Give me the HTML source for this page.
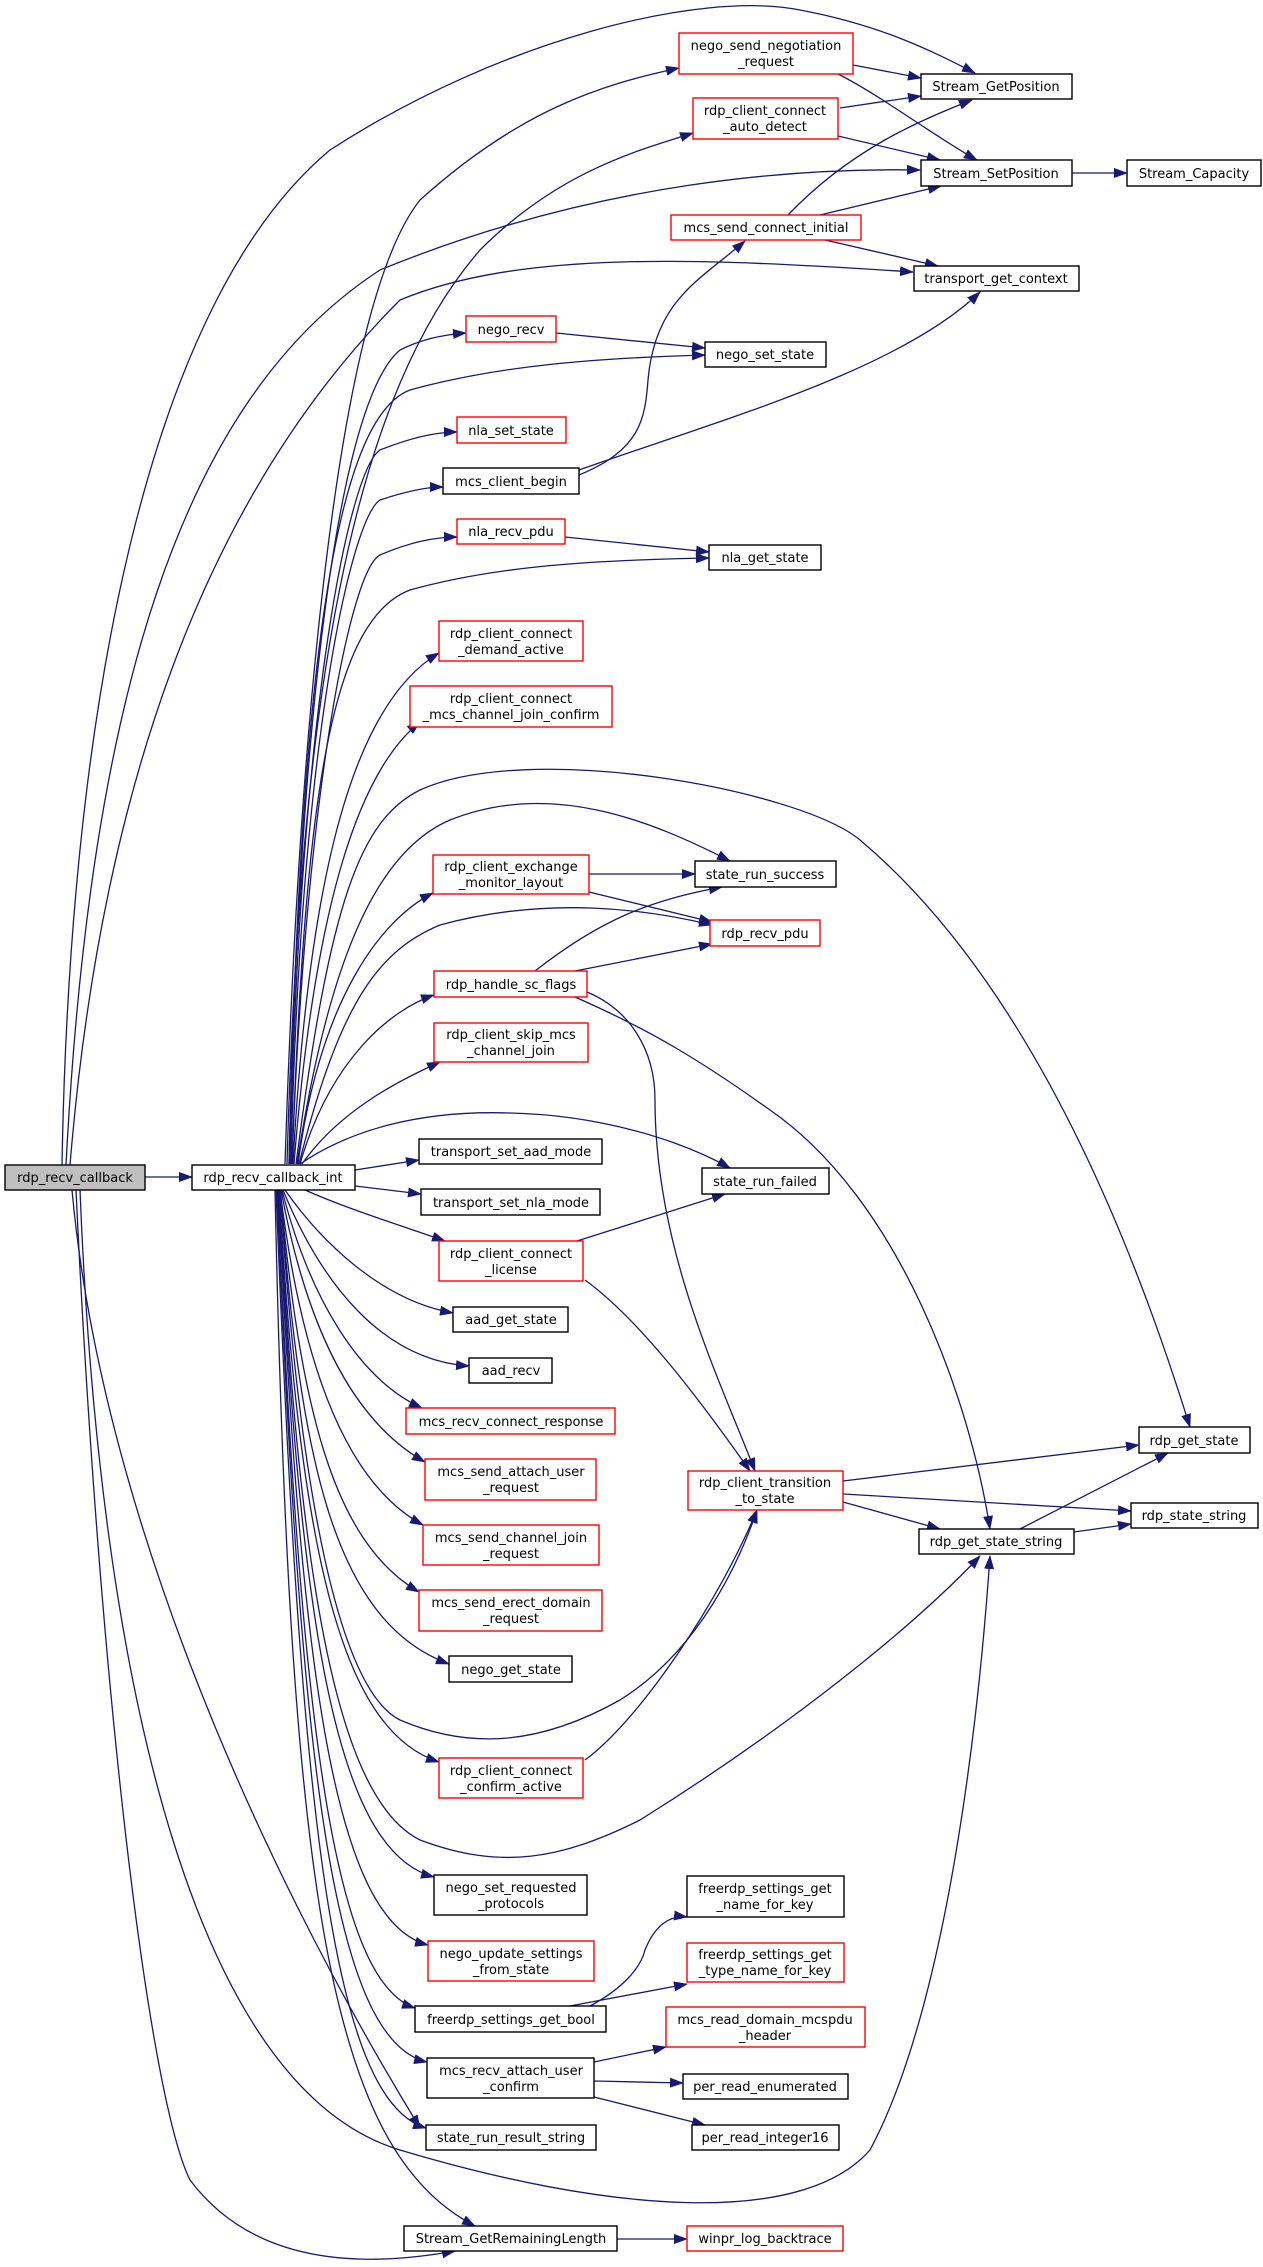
<!DOCTYPE html>
<html><head><meta charset="utf-8"><style>
html,body{margin:0;padding:0;background:#fff;}
svg{display:block;}
text{font-family:"DejaVu Sans","Liberation Sans",sans-serif;font-size:13px;fill:#000;text-anchor:middle;}
.e{fill:none;stroke:#191970;stroke-width:1.3;marker-end:url(#a);}
.n{fill:#fff;stroke:#000;stroke-width:1.4;}
.r{fill:#fff;stroke:#ff0000;stroke-width:1.4;}
</style></head><body>
<svg width="1263" height="2267" viewBox="0 0 1263 2267" xmlns="http://www.w3.org/2000/svg">
<defs><marker id="a" markerUnits="userSpaceOnUse" markerWidth="14" markerHeight="10" refX="13" refY="5" orient="auto"><path d="M0,0 L14,5 L0,10 z" fill="#191970"/></marker></defs>

<!-- edges from rdp_recv_callback -->
<path class="e" d="M145,1177 L192,1177"/>
<path class="e" d="M62,1165 C70,700 150,300 330,150 C500,40 700,-10 800,10 C880,25 930,50 975,73"/>
<path class="e" d="M66,1165 C90,700 180,400 380,270 C600,180 800,168 920,170"/>
<path class="e" d="M70,1165 C100,800 200,500 400,300 C520,250 700,258 913,272"/>
<path class="e" d="M72,1190 C100,1500 250,1850 420,2128"/>
<path class="e" d="M80,1190 C100,1700 200,2090 400,2150 C600,2210 800,2230 870,2150 C950,2000 980,1700 990,1556"/>
<path class="e" d="M76,1190 C100,1700 150,2100 190,2180 C250,2260 350,2270 455,2251"/>

<!-- edges from rdp_recv_callback_int (top) -->
<path class="e" d="M285,1164 C300,700 340,300 420,200 C520,110 600,85 679,68"/>
<path class="e" d="M287,1164 C300,700 350,400 480,250 C560,170 640,150 693,133"/>
<path class="e" d="M289,1164 C300,700 340,400 400,350 C420,340 440,335 466,333"/>
<path class="e" d="M289,1164 C300,700 330,420 410,390 C500,365 600,358 705,355"/>
<path class="e" d="M290,1164 C300,700 350,470 380,450 C410,438 435,432 457,432"/>
<path class="e" d="M291,1164 C300,750 350,520 380,500 C410,490 430,487 443,487"/>
<path class="e" d="M292,1164 C305,800 350,570 380,555 C410,542 435,537 457,537"/>
<path class="e" d="M292,1164 C305,800 330,620 410,590 C500,565 600,560 709,558"/>
<path class="e" d="M293,1164 C310,850 360,700 439,653"/>
<path class="e" d="M294,1164 C315,900 360,770 420,722"/>
<path class="e" d="M296,1164 C330,900 360,820 420,790 C530,740 800,790 860,840 C1050,1000 1150,1300 1190,1427"/>
<path class="e" d="M297,1164 C330,950 380,850 450,820 C550,780 650,820 730,861"/>
<path class="e" d="M298,1164 C320,1000 380,920 433,893"/>
<path class="e" d="M299,1164 C340,1000 380,950 440,925 C550,895 650,910 712,925"/>
<path class="e" d="M300,1164 C330,1060 390,1010 434,995"/>
<path class="e" d="M302,1164 C340,1110 400,1080 440,1062"/>
<path class="e" d="M300,1164 C350,1130 420,1110 510,1113 C600,1115 680,1140 730,1168"/>
<path class="e" d="M355,1170 L419,1160"/>
<path class="e" d="M355,1186 L421,1194"/>
<path class="e" d="M305,1190 C350,1210 400,1225 445,1241"/>

<!-- edges from rdp_recv_callback_int (bottom) -->
<path class="e" d="M285,1190 C320,1240 380,1300 453,1313"/>
<path class="e" d="M283,1190 C320,1280 380,1360 469,1366"/>
<path class="e" d="M282,1190 C310,1300 360,1380 422,1408"/>
<path class="e" d="M281,1190 C305,1320 350,1420 425,1462"/>
<path class="e" d="M280,1190 C300,1350 340,1480 423,1525"/>
<path class="e" d="M280,1190 C300,1400 330,1540 419,1592"/>
<path class="e" d="M280,1190 C300,1450 330,1620 449,1664"/>
<path class="e" d="M280,1190 C300,1500 340,1690 400,1720 C470,1750 540,1745 620,1700 C700,1650 740,1560 757,1510"/>
<path class="e" d="M279,1190 C300,1550 340,1730 439,1762"/>
<path class="e" d="M279,1190 C300,1600 340,1800 420,1840 C500,1870 560,1860 640,1820 C800,1720 920,1620 980,1556"/>
<path class="e" d="M278,1190 C300,1600 330,1850 434,1877"/>
<path class="e" d="M278,1190 C300,1650 330,1920 428,1945"/>
<path class="e" d="M277,1190 C300,1700 330,1980 415,2008"/>
<path class="e" d="M277,1190 C300,1750 330,2040 427,2062"/>
<path class="e" d="M276,1190 C300,1800 330,2100 426,2128"/>
<path class="e" d="M275,1190 C290,1900 330,2150 475,2226"/>

<!-- other edges -->
<path class="e" d="M853,65 L921,78"/>
<path class="e" d="M838,74 C880,95 940,140 977,160"/>
<path class="e" d="M840,108 L921,96"/>
<path class="e" d="M838,136 L940,160"/>
<path class="e" d="M788,215 C850,150 920,120 972,100"/>
<path class="e" d="M820,215 L941,186"/>
<path class="e" d="M825,240 L938,266"/>
<path class="e" d="M1072,173 L1127,173"/>
<path class="e" d="M556,333 L705,348"/>
<path class="e" d="M579,475 C640,450 645,420 648,380 C655,300 700,280 745,241"/>
<path class="e" d="M579,470 C720,420 900,370 980,292"/>
<path class="e" d="M565,537 L709,552"/>
<path class="e" d="M589,874 L695,874"/>
<path class="e" d="M589,892 L712,922"/>
<path class="e" d="M535,971 C600,920 650,900 722,887"/>
<path class="e" d="M575,971 L712,944"/>
<path class="e" d="M587,992 C630,1010 655,1050 655,1100 C655,1250 720,1380 755,1471"/>
<path class="e" d="M575,997 C650,1030 700,1060 770,1110 C900,1200 970,1400 990,1529"/>
<path class="e" d="M577,1241 L725,1194"/>
<path class="e" d="M585,1280 C640,1320 700,1400 750,1471"/>
<path class="e" d="M585,1760 C640,1720 720,1600 757,1510"/>
<path class="e" d="M843,1481 L1139,1445"/>
<path class="e" d="M843,1494 L1131,1511"/>
<path class="e" d="M843,1502 L940,1529"/>
<path class="e" d="M1020,1529 L1168,1453"/>
<path class="e" d="M1074,1532 L1131,1524"/>
<path class="e" d="M590,2006 C620,1990 640,1970 645,1950 C655,1925 670,1915 687,1917"/>
<path class="e" d="M570,2006 L687,1984"/>
<path class="e" d="M594,2062 L666,2047"/>
<path class="e" d="M594,2081 L683,2083"/>
<path class="e" d="M594,2097 L705,2125"/>
<path class="e" d="M617,2239 L687,2239"/>

<!-- nodes -->
<rect x="5" y="1165" width="140" height="25" fill="#bfbfbf" stroke="#000" stroke-width="1.4"/><text x="75" y="1182">rdp_recv_callback</text>
<rect class="n" x="192" y="1165" width="163" height="25"/><text x="273" y="1182">rdp_recv_callback_int</text>

<rect class="r" x="679" y="33" width="174" height="41"/><text x="766" y="50">nego_send_negotiation</text><text x="766" y="66">_request</text>
<rect class="n" x="921" y="74" width="151" height="25"/><text x="996" y="91">Stream_GetPosition</text>
<rect class="r" x="693" y="98" width="145" height="41"/><text x="765" y="115">rdp_client_connect</text><text x="765" y="131">_auto_detect</text>
<rect class="n" x="921" y="160" width="151" height="26"/><text x="996" y="178">Stream_SetPosition</text>
<rect class="n" x="1127" y="160" width="134" height="26"/><text x="1194" y="178">Stream_Capacity</text>
<rect class="r" x="671" y="215" width="190" height="25"/><text x="766" y="232">mcs_send_connect_initial</text>
<rect class="n" x="914" y="266" width="165" height="25"/><text x="996" y="283">transport_get_context</text>
<rect class="r" x="466" y="316" width="90" height="26"/><text x="511" y="334">nego_recv</text>
<rect class="n" x="705" y="342" width="121" height="25"/><text x="765" y="359">nego_set_state</text>
<rect class="r" x="457" y="417" width="109" height="26"/><text x="511" y="435">nla_set_state</text>
<rect class="n" x="443" y="468" width="136" height="26"/><text x="511" y="486">mcs_client_begin</text>
<rect class="r" x="457" y="519" width="108" height="25"/><text x="511" y="536">nla_recv_pdu</text>
<rect class="n" x="709" y="545" width="112" height="25"/><text x="765" y="562">nla_get_state</text>
<rect class="r" x="439" y="621" width="144" height="40"/><text x="511" y="638">rdp_client_connect</text><text x="511" y="654">_demand_active</text>
<rect class="r" x="410" y="686" width="202" height="41"/><text x="511" y="703">rdp_client_connect</text><text x="511" y="719">_mcs_channel_join_confirm</text>
<rect class="n" x="695" y="861" width="141" height="26"/><text x="765" y="879">state_run_success</text>
<rect class="r" x="433" y="855" width="156" height="39"/><text x="511" y="871">rdp_client_exchange</text><text x="511" y="887">_monitor_layout</text>
<rect class="r" x="710" y="920" width="110" height="26"/><text x="765" y="938">rdp_recv_pdu</text>
<rect class="r" x="434" y="971" width="153" height="26"/><text x="511" y="989">rdp_handle_sc_flags</text>
<rect class="r" x="434" y="1023" width="154" height="39"/><text x="511" y="1039">rdp_client_skip_mcs</text><text x="511" y="1055">_channel_join</text>
<rect class="n" x="419" y="1139" width="183" height="25"/><text x="511" y="1156">transport_set_aad_mode</text>
<rect class="n" x="702" y="1168" width="127" height="26"/><text x="765" y="1186">state_run_failed</text>
<rect class="n" x="421" y="1189" width="179" height="26"/><text x="511" y="1207">transport_set_nla_mode</text>
<rect class="r" x="439" y="1241" width="144" height="40"/><text x="511" y="1258">rdp_client_connect</text><text x="511" y="1274">_license</text>
<rect class="n" x="453" y="1307" width="115" height="25"/><text x="511" y="1324">aad_get_state</text>
<rect class="n" x="469" y="1358" width="83" height="25"/><text x="511" y="1375">aad_recv</text>
<rect class="r" x="406" y="1408" width="209" height="26"/><text x="511" y="1426">mcs_recv_connect_response</text>
<rect class="r" x="425" y="1459" width="171" height="41"/><text x="511" y="1476">mcs_send_attach_user</text><text x="511" y="1492">_request</text>
<rect class="n" x="1139" y="1427" width="111" height="26"/><text x="1194" y="1445">rdp_get_state</text>
<rect class="r" x="688" y="1471" width="155" height="39"/><text x="765" y="1487">rdp_client_transition</text><text x="765" y="1503">_to_state</text>
<rect class="n" x="1131" y="1503" width="127" height="25"/><text x="1194" y="1520">rdp_state_string</text>
<rect class="n" x="919" y="1529" width="155" height="25"/><text x="996" y="1546">rdp_get_state_string</text>
<rect class="r" x="423" y="1525" width="176" height="40"/><text x="511" y="1542">mcs_send_channel_join</text><text x="511" y="1558">_request</text>
<rect class="r" x="419" y="1590" width="183" height="41"/><text x="511" y="1607">mcs_send_erect_domain</text><text x="511" y="1623">_request</text>
<rect class="n" x="449" y="1656" width="123" height="26"/><text x="511" y="1674">nego_get_state</text>
<rect class="r" x="439" y="1758" width="144" height="40"/><text x="511" y="1775">rdp_client_connect</text><text x="511" y="1791">_confirm_active</text>
<rect class="n" x="434" y="1875" width="153" height="40"/><text x="511" y="1892">nego_set_requested</text><text x="511" y="1908">_protocols</text>
<rect class="n" x="687" y="1876" width="157" height="41"/><text x="765" y="1893">freerdp_settings_get</text><text x="765" y="1909">_name_for_key</text>
<rect class="r" x="428" y="1941" width="166" height="40"/><text x="511" y="1958">nego_update_settings</text><text x="511" y="1974">_from_state</text>
<rect class="r" x="687" y="1943" width="157" height="39"/><text x="765" y="1959">freerdp_settings_get</text><text x="765" y="1975">_type_name_for_key</text>
<rect class="n" x="415" y="2006" width="191" height="26"/><text x="511" y="2024">freerdp_settings_get_bool</text>
<rect class="r" x="666" y="2007" width="199" height="40"/><text x="765" y="2024">mcs_read_domain_mcspdu</text><text x="765" y="2040">_header</text>
<rect class="n" x="427" y="2058" width="167" height="40"/><text x="511" y="2075">mcs_recv_attach_user</text><text x="511" y="2091">_confirm</text>
<rect class="n" x="683" y="2074" width="165" height="25"/><text x="765" y="2091">per_read_enumerated</text>
<rect class="n" x="426" y="2125" width="170" height="25"/><text x="511" y="2142">state_run_result_string</text>
<rect class="n" x="692" y="2125" width="147" height="25"/><text x="765" y="2142">per_read_integer16</text>
<rect class="n" x="404" y="2226" width="213" height="25"/><text x="511" y="2243">Stream_GetRemainingLength</text>
<rect class="r" x="687" y="2226" width="156" height="25"/><text x="765" y="2243">winpr_log_backtrace</text>
</svg>
</body></html>
